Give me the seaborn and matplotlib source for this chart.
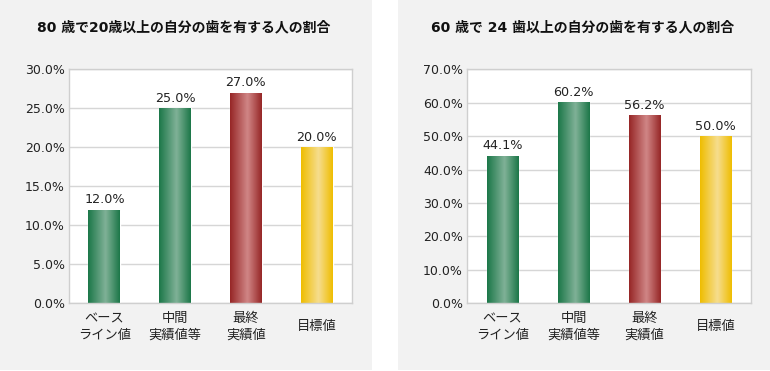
import matplotlib
matplotlib.use("Agg")
import matplotlib.pyplot as plt
from matplotlib.patches import Rectangle
from matplotlib.colors import LinearSegmentedColormap
import numpy as np
import pandas as pd
import seaborn as sns

# data
categories = ["ベース\nライン値", "中間\n実績値等", "最終\n実績値", "目標値"]
values_80 = [12.0, 25.0, 27.0, 20.0]
values_60 = [44.1, 60.2, 56.2, 50.0]
ticks_80 = [0, 5, 10, 15, 20, 25, 30]
ticks_60 = [0, 10, 20, 30, 40, 50, 60, 70]
title_80 = "80 歳で20歳以上の自分の歯を有する人の割合"
title_60 = "60 歳で 24 歯以上の自分の歯を有する人の割合"

edge_colors = ["#1b7748", "#1b7748", "#962626", "#efbd00"]
center_colors = ["#80b197", "#80b197", "#d08686", "#f6dd8e"]

sns.set_style("white")
# wide latin digits first, CJK glyphs fall back to Noto
plt.rcParams["font.family"] = ["DejaVu Sans", "Noto Sans CJK JP"]
cjk = ["Noto Sans CJK JP", "DejaVu Sans"]

W, H = 770, 371
fig = plt.figure(figsize=(W / 100, H / 100), dpi=100, facecolor="white")

# grey panels behind each chart
fig.add_artist(Rectangle((0, 1 / H), 372 / W, 370 / H, transform=fig.transFigure,
                         facecolor="#f2f2f2", edgecolor="none", zorder=0))
fig.add_artist(Rectangle((398 / W, 1 / H), 372 / W, 370 / H, transform=fig.transFigure,
                         facecolor="#f2f2f2", edgecolor="none", zorder=0))


def draw_panel(rect, values, ticks, title, title_x):
    ax = fig.add_axes(rect)
    df = pd.DataFrame({"cat": categories, "val": values})
    sns.barplot(data=df, x="cat", y="val", hue="cat", palette=edge_colors,
                legend=False, width=0.45, saturation=1, ax=ax)

    ymax = ticks[-1]
    # cylinder-like shading on every bar
    for patch, e, c in zip(ax.patches, edge_colors, center_colors):
        x0, y0 = patch.get_x(), patch.get_y()
        w, h = patch.get_width(), patch.get_height()
        cmap = LinearSegmentedColormap.from_list("b", [(0, e), (0.55, c), (1, e)])
        grad = np.linspace(0, 1, 256).reshape(1, -1)
        im = ax.imshow(grad, cmap=cmap, extent=(x0, x0 + w, y0, y0 + h),
                       aspect="auto", zorder=2, interpolation="bilinear")
        im.set_clip_path(patch)

    for i, v in enumerate(values):
        ax.text(i, v + ymax * 0.015, f"{v:.1f}%", ha="center", va="bottom",
                fontsize=9.2, color="#222222", zorder=3)

    ax.set_xlim(-0.5, 3.5)
    ax.set_ylim(0, ymax)
    ax.set_yticks(ticks)
    ax.set_yticklabels([f"{t:.1f}%" for t in ticks])
    ax.set_xticks(range(len(categories)))
    ax.set_xticklabels(categories, va="center", linespacing=1.35, family=cjk)
    ax.set_xlabel("")
    ax.set_ylabel("")
    ax.set_facecolor("white")
    ax.yaxis.grid(True, color="#d6d6d6", lw=1)
    ax.set_axisbelow(True)
    for s in ax.spines.values():
        s.set_color("#cfcfcf")
        s.set_linewidth(1)
    ax.tick_params(axis="y", length=0, pad=3, labelsize=9, labelcolor="#222222")
    ax.tick_params(axis="x", length=0, pad=17, labelsize=9.5, labelcolor="#222222")

    fig.text(title_x / W, 1 - 27 / H, title, ha="center", va="center",
             fontsize=10, fontweight="bold", color="#111111")
    return ax


draw_panel([69 / W, 67.7 / H, 283 / W, 234 / H], values_80, ticks_80, title_80, 184)
draw_panel([467 / W, 67.7 / H, 284 / W, 234 / H], values_60, ticks_60, title_60, 583)

fig.savefig("out.png", dpi=100, facecolor=fig.get_facecolor())
